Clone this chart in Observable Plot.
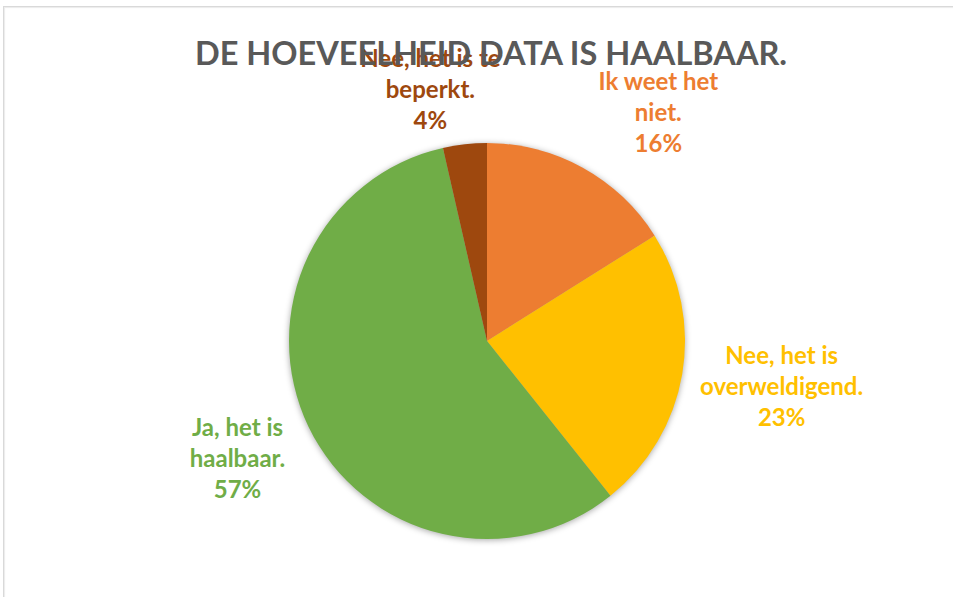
<!DOCTYPE html>
<html><head><meta charset="utf-8">
<script src="https://cdn.jsdelivr.net/npm/d3@7"></script>
<script src="https://cdn.jsdelivr.net/npm/@observablehq/plot@0.6"></script>
<style>
html,body{margin:0;padding:0;background:#fff;}
#wrap{position:relative;width:953px;height:597px;overflow:hidden;background:#fff;}
#frame{position:absolute;left:3px;top:6px;width:1000px;height:700px;border-left:1px solid #d9d9d9;border-top:1px solid #d9d9d9;box-shadow:inset 1px 1px 1px #ececec;}
#chart{position:absolute;left:0;top:0;}
</style></head><body>
<div id="wrap"><div id="frame"></div><div id="chart"></div></div>
<script>
// ---- data ----
const categories = ["Ik weet het niet.", "Nee, het is overweldigend.", "Ja, het is haalbaar.", "Nee, het is te beperkt."];
const labelLines = ["Ik weet het\nniet.", "Nee, het is\noverweldigend.", "Ja, het is\nhaalbaar.", "Nee, het is te\nbeperkt."];
const values = [9, 13, 32, 2];
const colors = ["#ED7D31", "#FFC000", "#70AD47", "#9E480E"];
const title = "DE HOEVEELHEID DATA IS HAALBAAR.";

// ---- layout (not data): label placement [angle° clockwise from top, distance in radii]
const labelPlacement = [[36.6, 1.447], [98.5, 1.502], [245.1, 1.392], [347.3, 1.312]];

const total = d3.sum(values);
const pct = d3.format(".0%");
const idx = d3.range(values.length);
const rad = a => a * Math.PI / 180;

function pieMark(index, scales, channels, dimensions, context) {
  const cx = scales.x(0), cy = scales.y(0);
  const r = scales.x(1) - cx;
  const arcs = d3.pie().sort(null).value(i => values[i])(idx);
  const arc = d3.arc().innerRadius(0).outerRadius(r);
  const g = d3.create("svg:g")
    .attr("transform", `translate(${cx},${cy})`)
    .style("filter", "drop-shadow(0px 1px 3px rgba(0,0,0,0.35))");
  g.selectAll("path").data(arcs).join("path")
    .attr("d", arc)
    .attr("fill", d => scales.color(categories[d.data]));
  return g.node();
}

const chart = Plot.plot({
  width: 953,
  height: 597,
  margin: 0,
  style: {fontFamily: "Lato, 'Open Sans', sans-serif", background: "transparent", overflow: "visible"},
  x: {domain: [-1, 1], range: [289, 685], axis: null},
  y: {domain: [-1, 1], range: [539, 143], axis: null},
  color: {domain: categories, range: colors},
  marks: [
    pieMark,
    Plot.text(idx, {
      x: i => Math.sin(rad(labelPlacement[i][0])) * labelPlacement[i][1],
      y: i => Math.cos(rad(labelPlacement[i][0])) * labelPlacement[i][1],
      text: i => labelLines[i] + "\n" + pct(values[i] / total),
      fill: i => categories[i],
      fontSize: 24,
      fontWeight: "bold",
      lineHeight: 1.29,
      textAnchor: "middle",
      lineAnchor: "middle"
    }),
    Plot.text([title], {
      frameAnchor: "top",
      dx: 14,
      dy: 54,
      lineAnchor: "middle",
      fontSize: 32.5,
      fontWeight: "bold",
      fill: "#595959"
    })
  ]
});
document.getElementById("chart").appendChild(chart);
</script>
</body></html>
